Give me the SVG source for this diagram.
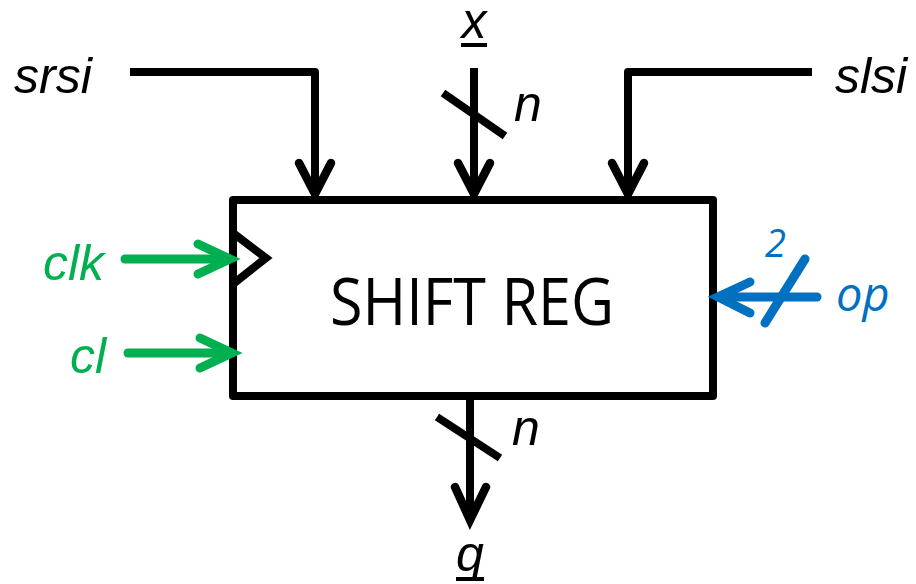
<svg xmlns="http://www.w3.org/2000/svg" width="916" height="584" viewBox="0 0 916 584">
<style>
.w{fill:none;stroke:#000;stroke-width:8}
.h{fill:none;stroke:#000;stroke-width:8.5;stroke-linecap:round;stroke-linejoin:miter}
.g{fill:none;stroke:#00B050;stroke-width:9;stroke-linecap:round}
.b{fill:none;stroke:#0070C0;stroke-width:9;stroke-linecap:round}
.lbl{font-family:"Liberation Sans",Arial,sans-serif;font-style:italic;font-size:50px;fill:#000}
.cal{font-family:"Open Sans","Noto Sans",sans-serif}
</style>
<rect width="916" height="584" fill="#fff"/>
<g id="shiftreg">
<rect x="233" y="200" width="480" height="196" fill="#fff" stroke="#000" stroke-width="8" stroke-linejoin="round"/>
<polyline points="233,233 266,258 233,284" class="w" stroke-linejoin="miter"/>
<text x="472" y="325" text-anchor="middle" class="cal" font-size="66" textLength="284" lengthAdjust="spacingAndGlyphs">SHIFT REG</text>
</g>
<g id="connectors">
<polyline points="130,72 315,72 315,192" class="w" stroke-linejoin="round"/>
<polyline points="299,163 315,194 331,163" class="h"/>
<line x1="474" y1="68" x2="474" y2="192" class="w"/>
<polyline points="458,163 474,194 490,163" class="h"/>
<line x1="443" y1="93" x2="505" y2="136" class="w"/>
<polyline points="812,72 628,72 628,192" class="w" stroke-linejoin="round"/>
<polyline points="612,163 628,194 644,163" class="h"/>
<line x1="125" y1="259" x2="229" y2="259" class="g"/>
<polyline points="198,244 230,259 198,274" class="g"/>
<line x1="128" y1="353" x2="229" y2="353" class="g"/>
<polyline points="200,338 232,353 200,368" class="g"/>
<line x1="817" y1="297" x2="720" y2="297" class="b"/>
<polyline points="750,282 718,297 750,313" class="b"/>
<line x1="805" y1="259" x2="765" y2="323" class="b"/>
<line x1="470" y1="400" x2="470" y2="516" class="w"/>
<polyline points="455,487 470,520 486,487" class="h"/>
<line x1="437" y1="417" x2="500" y2="458" class="w"/>
</g>
<g id="labels">
<text x="14" y="93" class="lbl">srsi</text>
<text x="835" y="93" class="lbl">slsi</text>
<text x="474" y="38" class="lbl" font-size="48" text-anchor="middle">x</text>
<line x1="461" y1="45" x2="487" y2="45" stroke="#000" stroke-width="4"/>
<text x="514" y="121" class="lbl" font-size="38">n</text>
<text x="512" y="445" class="lbl" font-size="38">n</text>
<text x="470" y="571" class="lbl" text-anchor="middle">q</text>
<line x1="456" y1="579" x2="484" y2="579" stroke="#000" stroke-width="4"/>
<text x="43" y="280" class="lbl" style="fill:#00B050">clk</text>
<text x="70" y="373" class="lbl" style="fill:#00B050">cl</text>
<text x="765" y="257" class="cal" font-style="italic" font-size="38" fill="#0070C0">2</text>
<text x="836" y="311" class="cal" font-style="italic" font-size="47" fill="#0070C0">op</text>
</g>
</svg>
